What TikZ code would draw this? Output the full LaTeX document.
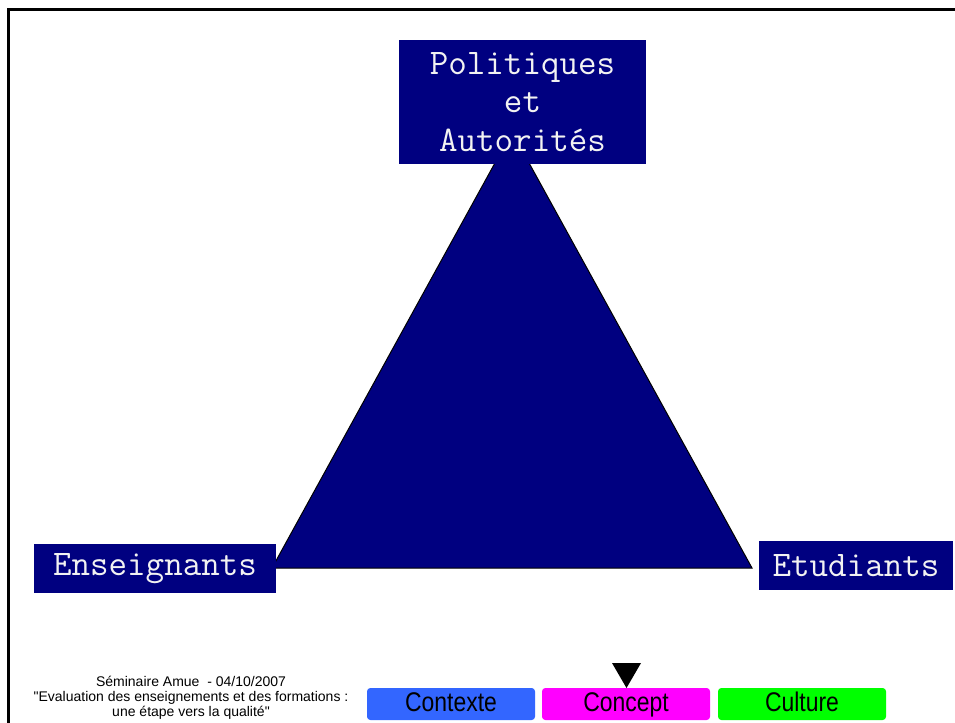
\documentclass[tikz,border=0pt]{standalone}
\usepackage{fontspec}
\setmainfont{Liberation Sans}
\newfontfamily\footfam{Liberation Sans}
\newfontfamily\btnfam{Liberation Sans}[FakeStretch=0.85]
\definecolor{navybox}{HTML}{000080}
\definecolor{btnblue}{HTML}{3366FF}
\definecolor{btnmag}{HTML}{FF00FF}
\definecolor{btngreen}{HTML}{00FF00}
\tikzset{
  actor/.style={fill=navybox, draw=none, inner sep=0pt, text=white!95!black,
    font=\ttfamily\fontsize{27pt}{28.9pt}\selectfont, align=center},
  button/.style={draw=none, rounded corners=2.5pt, inner sep=0pt,
    minimum width=126pt, minimum height=24pt, text=black,
    text height=14.5pt, text depth=3.5pt,
    font=\btnfam\fontsize{20.25pt}{22pt}\selectfont},
  footer/.style={inner sep=0pt, align=center, font=\footfam\fontsize{10.5pt}{11.25pt}\selectfont},
  frameline/.style={line width=2.25pt, black},
}
\begin{document}
\begin{tikzpicture}[x=0.75pt,y=-0.75pt]
\clip (0,0) rectangle (955,723);
\fill[white] (0,0) rectangle (955,723);
% frame
\draw[frameline] (8.5,723) -- (8.5,9.5) -- (960,9.5);
% triangle
\coordinate (apex) at (512,132);
\coordinate (lv) at (272,568);
\coordinate (rv) at (752,568);
\draw[fill=navybox, draw=black, line width=0.75pt] (apex) -- (lv) -- (rv) -- cycle;
% actor boxes
\node[actor, minimum width=185.25pt, minimum height=93pt] (pol) at (522.5,102)
  {Politiques\\et\\Autorités};
\node[actor, minimum width=181.5pt, minimum height=36.75pt] (ens) at (155,568.5) {Enseignants};
\node[actor, minimum width=145.5pt, minimum height=36.75pt] (etu) at (856,565.5) {Etudiants};
% footer
\node[footer] (foot) at (191,698)
  {Séminaire Amue~ - 04/10/2007\\"Evaluation des enseignements et des formations :\\une étape vers la qualité"};
% buttons
\node[button, fill=btnblue] (ctx) at (451,704) {Contexte};
\node[button, fill=btnmag] (cpt) at (626,704) {Concept};
\node[button, fill=btngreen] (cul) at (802,704) {Culture};
% marker
\coordinate (m1) at (612,663);
\coordinate (m2) at (641,663);
\coordinate (m3) at (626.5,688);
\fill[black] (m1) -- (m2) -- (m3) -- cycle;
\end{tikzpicture}
\end{document}
